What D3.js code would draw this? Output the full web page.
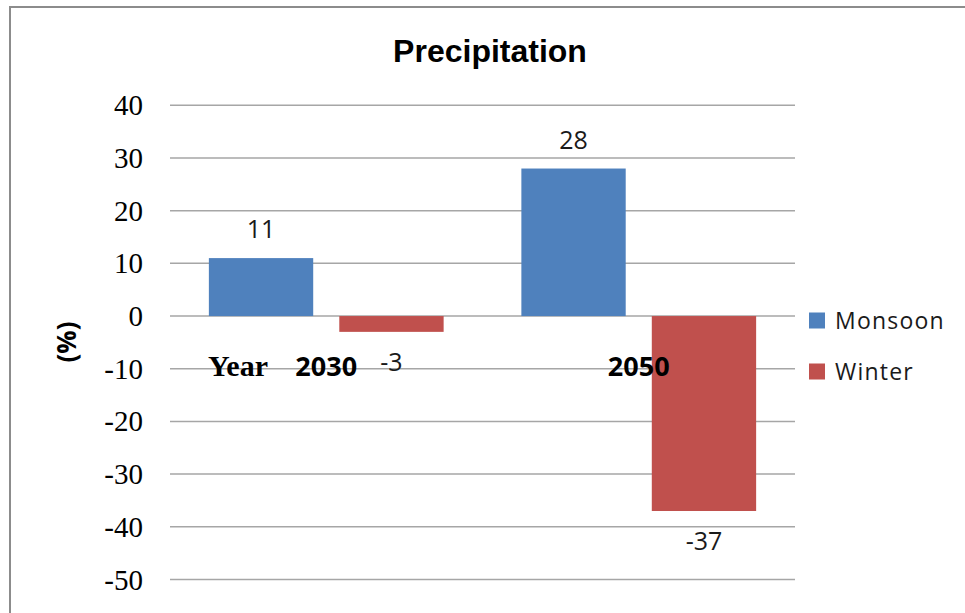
<!DOCTYPE html>
<html>
<head>
<meta charset="utf-8">
<script src="https://cdn.jsdelivr.net/npm/d3@7"></script>
<style>
  html, body { margin: 0; padding: 0; background: #fff; }
  svg { display: block; }
  .serif { font-family: "Liberation Serif", "DejaVu Serif", serif; }
  .sans { font-family: "Open Sans", "Noto Sans", sans-serif; }
</style>
</head>
<body>
<svg id="chart" width="965" height="613"></svg>
<script>
// Precipitation change (%) by season for two horizon years
const years = ["2030", "2050"];
const seasons = ["Monsoon", "Winter"];
const monsoon = [11, 28];
const winter = [-3, -37];
const yTicks = [40, 30, 20, 10, 0, -10, -20, -30, -40, -50];
const colors = ["#4F81BD", "#C0504D"];

const seriesValues = [monsoon, winter];

const svg = d3.select("#chart");

// outer frame (top and left edges visible)
svg.append("path")
  .attr("d", "M10,980 L10,7 L980,7")
  .attr("fill", "none")
  .attr("stroke", "#8c8c8c")
  .attr("stroke-width", 2);

const plot = { left: 170, right: 795, top: 105.3, bottom: 579.5 };

const y = d3.scaleLinear().domain([-50, 40]).range([plot.bottom, plot.top]);
const x0 = d3.scaleBand().domain(years).range([plot.left, plot.right]).padding(0);
const x1 = d3.scaleBand().domain(seasons).range([0, x0.bandwidth()])
  .paddingInner(0.2).paddingOuter(0.298);

// gridlines
svg.append("g")
  .selectAll("line")
  .data(yTicks)
  .join("line")
  .attr("x1", plot.left)
  .attr("x2", plot.right)
  .attr("y1", d => y(d))
  .attr("y2", d => y(d))
  .attr("stroke", "#a6a6a6")
  .attr("stroke-width", 1.5);

// y tick labels
svg.append("g")
  .selectAll("text")
  .data(yTicks)
  .join("text")
  .attr("class", "serif")
  .attr("x", 143)
  .attr("y", d => y(d) + 10)
  .attr("text-anchor", "end")
  .style("font-size", "29px")
  .attr("fill", "#000")
  .text(d => d);

// bars
const rows = [];
years.forEach((yr, i) => {
  seasons.forEach((s, j) => {
    rows.push({ year: yr, season: s, value: seriesValues[j][i], color: colors[j] });
  });
});

svg.append("g")
  .selectAll("rect")
  .data(rows)
  .join("rect")
  .attr("x", d => x0(d.year) + x1(d.season))
  .attr("width", x1.bandwidth())
  .attr("y", d => Math.min(y(d.value), y(0)))
  .attr("height", d => Math.abs(y(d.value) - y(0)))
  .attr("fill", d => d.color);

// value labels
svg.append("g")
  .selectAll("text")
  .data(rows)
  .join("text")
  .attr("class", "sans")
  .attr("x", d => x0(d.year) + x1(d.season) + x1.bandwidth() / 2)
  .attr("y", d => d.value >= 0 ? y(d.value) - 20 : y(d.value) + 39)
  .attr("text-anchor", "middle")
  .style("font-size", "25px")
  .attr("fill", "#1a1a1a")
  .text(d => d.value);

// category labels
svg.append("g")
  .selectAll("text")
  .data(years)
  .join("text")
  .attr("class", "sans")
  .attr("x", d => x0(d) + x0.bandwidth() / 2)
  .attr("y", 376)
  .attr("text-anchor", "middle")
  .style("font-weight", "bold")
  .style("font-size", "27px")
  .attr("fill", "#000")
  .text(d => d);

// x axis title
svg.append("text")
  .attr("class", "serif")
  .attr("x", 208)
  .attr("y", 376)
  .style("font-weight", "bold")
  .style("font-size", "30px")
  .attr("fill", "#000")
  .text("Year");

// y axis title
svg.append("text")
  .attr("class", "sans")
  .attr("transform", "translate(76,342) rotate(-90)")
  .attr("text-anchor", "middle")
  .style("font-weight", "bold")
  .style("font-size", "26px")
  .attr("fill", "#000")
  .text("(%)");

// chart title
svg.append("text")
  .attr("x", 490)
  .attr("y", 61.5)
  .attr("text-anchor", "middle")
  .style("font-family", "'Liberation Sans', Arial, sans-serif")
  .style("font-weight", "bold")
  .style("font-size", "32px")
  .attr("fill", "#000")
  .text("Precipitation");

// legend
const legend = svg.append("g")
  .selectAll("g")
  .data(seasons)
  .join("g")
  .attr("transform", (d, i) => `translate(809,${312.5 + i * 51})`);

legend.append("rect")
  .attr("width", 16)
  .attr("height", 16)
  .attr("fill", (d, i) => colors[i]);

legend.append("text")
  .attr("class", "sans")
  .attr("x", 26)
  .attr("y", 16)
  .style("font-size", "23px")
  .style("letter-spacing", "1.2px")
  .attr("fill", "#1a1a1a")
  .text(d => d);
</script>
</body>
</html>
